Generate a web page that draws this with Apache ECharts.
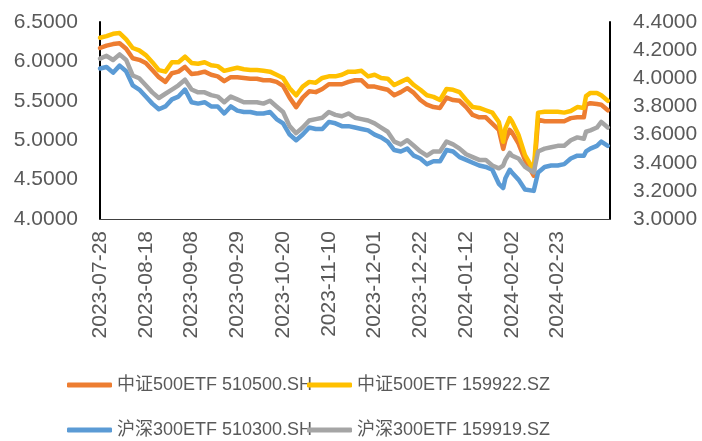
<!DOCTYPE html>
<html>
<head>
<meta charset="utf-8">
<script src="https://cdn.jsdelivr.net/npm/echarts@6/dist/echarts.min.js"></script>
<style>
html,body{margin:0;padding:0;background:#fff;}
#chart{width:702px;height:441px;}
</style>
</head>
<body>
<div id="chart"></div>
<script>
const dates = ['2023-07-28','2023-07-31','2023-08-03','2023-08-06','2023-08-09','2023-08-12','2023-08-15','2023-08-18','2023-08-21','2023-08-24','2023-08-27','2023-08-30','2023-09-02','2023-09-05','2023-09-08','2023-09-11','2023-09-14','2023-09-17','2023-09-20','2023-09-23','2023-09-26','2023-09-29','2023-10-02','2023-10-05','2023-10-08','2023-10-11','2023-10-14','2023-10-17','2023-10-20','2023-10-23','2023-10-26','2023-10-29','2023-11-01','2023-11-04','2023-11-07','2023-11-10','2023-11-13','2023-11-16','2023-11-19','2023-11-22','2023-11-25','2023-11-28','2023-12-01','2023-12-04','2023-12-07','2023-12-10','2023-12-13','2023-12-16','2023-12-19','2023-12-22','2023-12-25','2023-12-28','2023-12-31','2024-01-03','2024-01-06','2024-01-09','2024-01-12','2024-01-15','2024-01-18','2024-01-21','2024-01-24','2024-01-27','2024-01-29','2024-01-30','2024-02-01','2024-02-02','2024-02-05','2024-02-08','2024-02-12','2024-02-14','2024-02-17','2024-02-20','2024-02-23','2024-02-26','2024-02-29','2024-03-03','2024-03-06','2024-03-07','2024-03-09','2024-03-12','2024-03-14','2024-03-17'];

const zz500_510500 = [6.17,6.20,6.22,6.23,6.16,6.04,6.02,5.98,5.89,5.80,5.74,5.85,5.87,5.93,5.84,5.85,5.87,5.83,5.81,5.75,5.80,5.80,5.79,5.78,5.78,5.76,5.76,5.74,5.69,5.54,5.42,5.54,5.62,5.61,5.65,5.71,5.71,5.71,5.74,5.76,5.76,5.68,5.68,5.66,5.64,5.57,5.61,5.66,5.60,5.51,5.45,5.42,5.41,5.54,5.51,5.50,5.42,5.32,5.29,5.29,5.21,5.13,4.89,5.00,5.13,5.10,4.96,4.75,4.55,5.26,5.24,5.24,5.24,5.24,5.28,5.29,5.29,5.45,5.47,5.46,5.45,5.38];

const zz500_159922 = [6.30,6.32,6.35,6.36,6.28,6.17,6.14,6.08,5.99,5.89,5.87,5.99,5.99,6.06,5.98,5.97,5.99,5.95,5.94,5.88,5.90,5.92,5.90,5.89,5.89,5.88,5.87,5.83,5.79,5.66,5.57,5.68,5.74,5.73,5.79,5.81,5.81,5.83,5.87,5.87,5.88,5.81,5.83,5.79,5.78,5.70,5.74,5.78,5.70,5.64,5.57,5.55,5.51,5.65,5.64,5.61,5.51,5.42,5.41,5.38,5.35,5.23,4.98,5.15,5.28,5.24,5.07,4.81,4.62,5.35,5.36,5.36,5.36,5.35,5.37,5.42,5.41,5.56,5.60,5.60,5.57,5.50];

const hs300_510300 = [4.07,4.08,4.04,4.09,4.05,3.95,3.92,3.87,3.82,3.78,3.80,3.85,3.87,3.92,3.83,3.82,3.83,3.80,3.80,3.75,3.80,3.77,3.76,3.76,3.75,3.75,3.76,3.71,3.68,3.60,3.56,3.60,3.65,3.64,3.64,3.69,3.68,3.66,3.66,3.65,3.64,3.63,3.60,3.58,3.55,3.49,3.48,3.50,3.45,3.43,3.39,3.41,3.41,3.49,3.48,3.44,3.42,3.40,3.38,3.37,3.35,3.25,3.22,3.29,3.35,3.33,3.28,3.21,3.20,3.33,3.37,3.38,3.38,3.39,3.43,3.45,3.45,3.48,3.50,3.52,3.55,3.52];

const hs300_159919 = [4.14,4.16,4.13,4.17,4.13,4.02,4.00,3.95,3.90,3.86,3.89,3.92,3.95,3.99,3.92,3.90,3.90,3.88,3.87,3.83,3.87,3.85,3.83,3.83,3.83,3.82,3.84,3.80,3.76,3.66,3.61,3.65,3.70,3.71,3.72,3.76,3.74,3.73,3.75,3.72,3.71,3.70,3.68,3.65,3.62,3.55,3.53,3.56,3.52,3.48,3.45,3.48,3.48,3.55,3.53,3.50,3.46,3.44,3.42,3.42,3.38,3.36,3.38,3.42,3.47,3.45,3.43,3.37,3.33,3.48,3.50,3.51,3.52,3.52,3.56,3.58,3.57,3.62,3.63,3.65,3.69,3.65];

const xTickLabels = ['2023-07-28','2023-08-18','2023-09-08','2023-09-29','2023-10-20','2023-11-10','2023-12-01','2023-12-22','2024-01-12','2024-02-02','2024-02-23'];

const seriesNames = ['中证500ETF 510500.SH','中证500ETF 159922.SZ','沪深300ETF 510300.SH','沪深300ETF 159919.SZ'];
const colors = ['#ED7D31','#FFC000','#5B9BD5','#A5A5A5'];

const DAY = 86400000;
const origin = Date.UTC(2023,6,28);
function dayOf(s){ const p = s.split('-'); return (Date.UTC(+p[0], +p[1]-1, +p[2]) - origin) / DAY; }
function pairs(vals){ return dates.map((d,i)=>[dayOf(d), vals[i]]); }

const FONT = 'Liberation Sans, Noto Sans CJK SC, sans-serif';
const chart = echarts.init(document.getElementById('chart'), null, {renderer:'canvas'});

function mkLegend(name, left, top){
  return {
    data:[name], left:left, top:top, padding:0, orient:'horizontal',
    itemWidth:45, itemHeight:5, icon:'roundRect',
    textStyle:{fontSize:18, color:'#595959', fontFamily:FONT}
  };
}

const dataSets = [zz500_510500, zz500_159922, hs300_510300, hs300_159919];
const axisIdx = [0,0,1,1];

chart.setOption({
  animation:false,
  backgroundColor:'#fff',
  color:colors,
  grid:{left:100, right:92, top:22, bottom:222, containLabel:false},
  legend:[
    mkLegend(seriesNames[0], 67, 376),
    mkLegend(seriesNames[1], 307, 376),
    mkLegend(seriesNames[2], 67, 421),
    mkLegend(seriesNames[3], 307, 421)
  ],
  xAxis:{
    type:'value', min:0, max:234, interval:21,
    axisLine:{show:true, onZero:false, lineStyle:{color:'#404040', width:1}},
    axisTick:{show:false}, splitLine:{show:false},
    axisLabel:{
      rotate:90, margin:12, fontSize:21, color:'#595959', fontFamily:FONT,
      padding:[6,0,0,0],
      formatter:function(v){ const i = Math.round(v/21); return (Math.abs(v - i*21) < 0.01 && xTickLabels[i]) ? xTickLabels[i] : ''; }
    }
  },
  yAxis:[
    {
      type:'value', min:4, max:6.5, interval:0.5, position:'left',
      axisLine:{show:true, onZero:false, lineStyle:{color:'#000', width:2}},
      axisTick:{show:false}, splitLine:{show:false},
      axisLabel:{margin:22, fontSize:21, color:'#595959', fontFamily:FONT, formatter:v=>v.toFixed(4)}
    },
    {
      type:'value', min:3, max:4.4, interval:0.2, position:'right',
      axisLine:{show:true, onZero:false, lineStyle:{color:'#000', width:2}},
      axisTick:{show:false}, splitLine:{show:false},
      axisLabel:{margin:23, fontSize:21, color:'#595959', fontFamily:FONT, formatter:v=>v.toFixed(4)}
    }
  ],
  series: seriesNames.map((n,i)=>({
    name:n, type:'line', yAxisIndex:axisIdx[i], data:pairs(dataSets[i]),
    showSymbol:false, symbol:'none', smooth:false,
    lineStyle:{width:4.5, color:colors[i], cap:'round', join:'round'},
    itemStyle:{color:colors[i]}
  }))
});
</script>
</body>
</html>
